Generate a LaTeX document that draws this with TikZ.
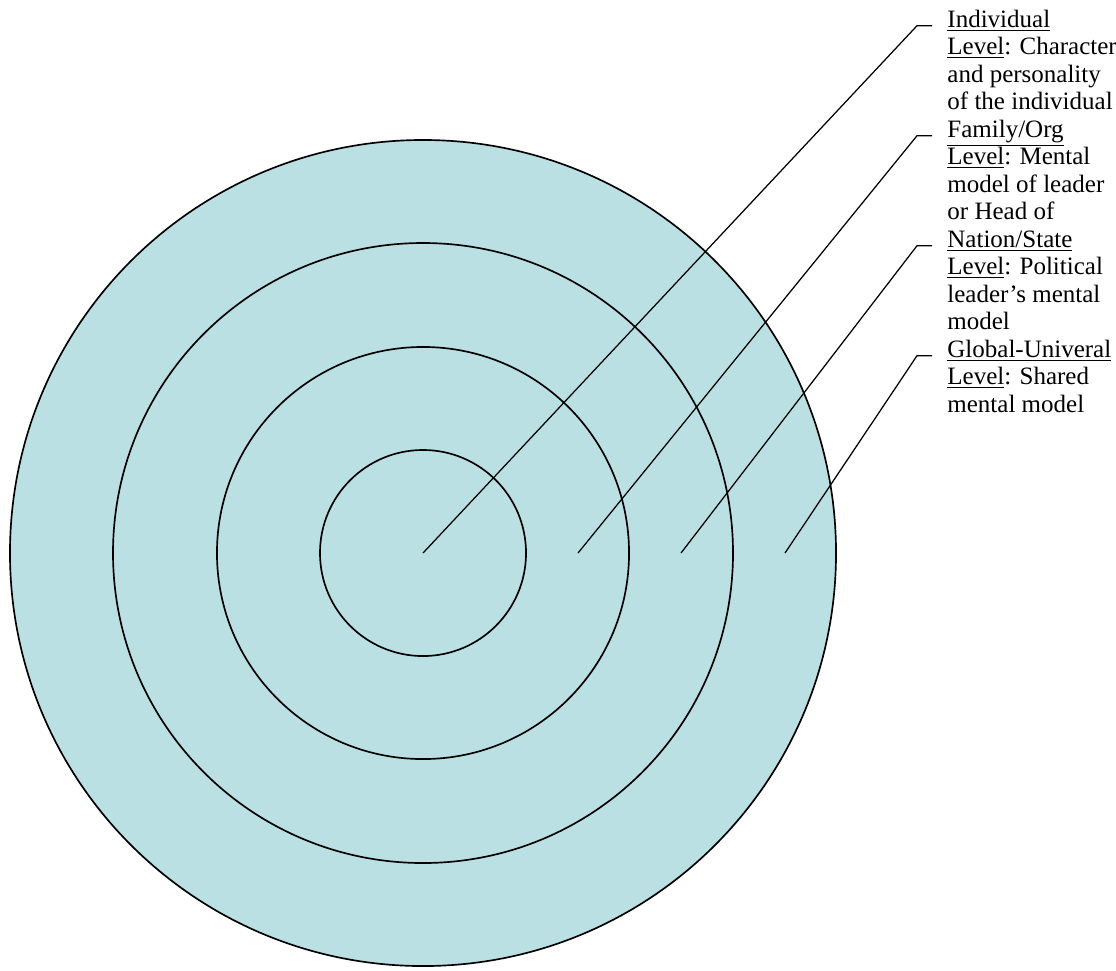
\documentclass[tikz,border=0pt]{standalone}
\usepackage{fontspec}
\setmainfont{Liberation Serif}
\usepackage{tikz}
\usetikzlibrary{positioning}
\definecolor{RingBlue}{RGB}{187,224,227}
\newcommand{\notestrut}{\rule{0pt}{9pt}}

\begin{document}
\begin{tikzpicture}[x=0.48pt,y=-0.48pt,
    ring/.style={circle,draw,line width=0.8pt,fill=RingBlue,inner sep=0pt},
    levelnote/.style={anchor=north west,align=left,inner xsep=7.2pt,inner ysep=0pt,
      font=\fontsize{12}{13.2}\selectfont},
    leader/.style={line width=0.6pt}]
  \useasboundingbox (0,0) rectangle (1116,970);
  % the four levels, outermost first
  \node[ring,minimum size=396.5pt] (global) at (423,553) {};
  \node[ring,minimum size=297.6pt] (nation) at (423,553) {};
  \node[ring,minimum size=197.8pt] (family) at (423,553) {};
  \node[ring,minimum size=98.9pt] (individual) at (423,553) {};
  \coordinate (pFamily) at (578,553);
  \coordinate (pNation) at (681,553);
  \coordinate (pGlobal) at (785,553);
  % notes on the right
  \node[levelnote] (individualNote) at (932,8) {\notestrut\underline{Individual}\\
    \underline{Level}: Character\\and personality\\of the individual};
  \node[levelnote] (familyNote) at (932,118) {\notestrut\underline{Family/Org}\\
    \underline{Level}: Mental\\model of leader\\or Head of};
  \node[levelnote] (nationNote) at (932,228) {\notestrut\underline{Nation/State}\\
    \underline{Level}: Political\\leader’s mental\\model};
  \node[levelnote] (globalNote) at (932,338) {\notestrut\underline{Global-Univeral}\\
    \underline{Level}: Shared\\mental model};
  \draw[leader] (individual.center) -- ([xshift=-7.2pt,yshift=-8.5pt]individualNote.north west) -- ([yshift=-8.5pt]individualNote.north west);
  \draw[leader] (pFamily) -- ([xshift=-7.2pt,yshift=-8.5pt]familyNote.north west) -- ([yshift=-8.5pt]familyNote.north west);
  \draw[leader] (pNation) -- ([xshift=-7.2pt,yshift=-8.5pt]nationNote.north west) -- ([yshift=-8.5pt]nationNote.north west);
  \draw[leader] (pGlobal) -- ([xshift=-7.2pt,yshift=-8.5pt]globalNote.north west) -- ([yshift=-8.5pt]globalNote.north west);
\end{tikzpicture}
\end{document}
